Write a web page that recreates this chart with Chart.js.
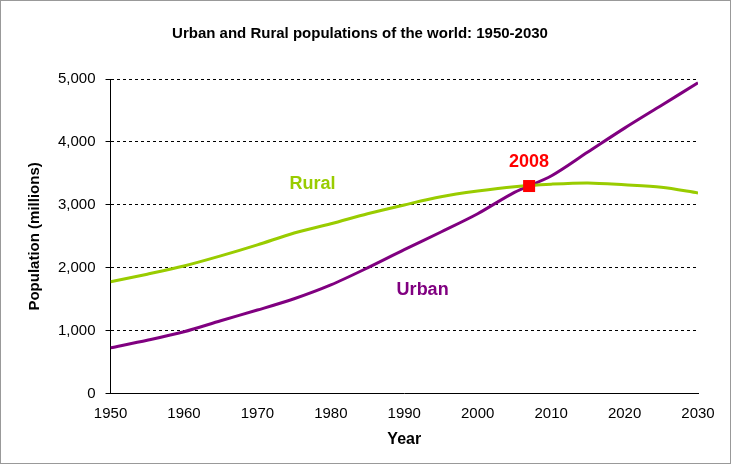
<!DOCTYPE html>
<html><head><meta charset="utf-8">
<script src="https://cdn.jsdelivr.net/npm/chart.js@4"></script>
<style>html,body{margin:0;background:#fff}#w{width:729px;height:462px;border:1px solid #999;position:relative}</style>
</head><body><div id="w"><canvas id="c"></canvas></div>
<script>
const years=[1950,1955,1960,1965,1970,1975,1980,1985,1990,1995,2000,2005,2010,2015,2020,2025,2030];
const urban=[730,850,985,1160,1330,1510,1730,2000,2290,2570,2860,3200,3460,3840,4220,4580,4940];
const rural=[1780,1900,2030,2190,2365,2555,2700,2860,3000,3130,3220,3290,3330,3350,3320,3280,3190];
const crossing={x:2007,y:3300,label:'2008'};
const lbl=[{t:'Rural',x:1977.5,y:3330,c:'#99cc00'},{t:'Urban',x:1992.5,y:1650,c:'#800080'}];
const ann={id:'ann',afterDatasetsDraw(ch){const {ctx,scales:{x,y}}=ch;ctx.save();
ctx.font='bold 18px Arial, Liberation Sans';ctx.textAlign='center';ctx.textBaseline='middle';
lbl.forEach(l=>{ctx.fillStyle=l.c;ctx.fillText(l.t,x.getPixelForValue(l.x),y.getPixelForValue(l.y));});
const px=x.getPixelForValue(crossing.x),py=y.getPixelForValue(crossing.y);
ctx.fillStyle='#ff0000';ctx.fillRect(px-6,py-6,12,12);
ctx.fillText(crossing.label,px,py-24);ctx.restore();}};
new Chart(document.getElementById('c'),{type:'line',
data:{datasets:[
{data:years.map((v,i)=>({x:v,y:rural[i]})),borderColor:'#99cc00',borderWidth:3,pointRadius:0,tension:0.3},
{data:years.map((v,i)=>({x:v,y:urban[i]})),borderColor:'#800080',borderWidth:3,pointRadius:0,tension:0.3}]},
options:{responsive:true,maintainAspectRatio:false,animation:false,
layout:{padding:{left:21,right:32,top:16,bottom:10}},
plugins:{legend:{display:false},tooltip:{enabled:false},
title:{display:true,text:'Urban and Rural populations of the world: 1950-2030',color:'#000',font:{size:15,weight:'bold',family:'Arial, Liberation Sans'},padding:{top:8,bottom:36}}},
scales:{x:{type:'linear',min:1950,max:2030,ticks:{stepSize:10,color:'#000',font:{size:15,family:'Arial, Liberation Sans'},callback:v=>String(v)},
grid:{display:false,drawTicks:true},border:{color:'#000',width:1},
title:{display:true,text:'Year',color:'#000',font:{size:16,weight:'bold',family:'Arial, Liberation Sans'}}},
y:{min:0,max:5000,ticks:{stepSize:1000,padding:10,color:'#000',font:{size:15,family:'Arial, Liberation Sans'},callback:v=>v.toLocaleString('en-US')},
grid:{color:'#000',drawTicks:true,tickLength:5},border:{color:'#000',width:1,dash:[3,3]},
title:{display:true,text:'Population (millions)',color:'#000',font:{size:15,weight:'bold',family:'Arial, Liberation Sans'}}}}},
plugins:[ann]});
</script></body></html>
